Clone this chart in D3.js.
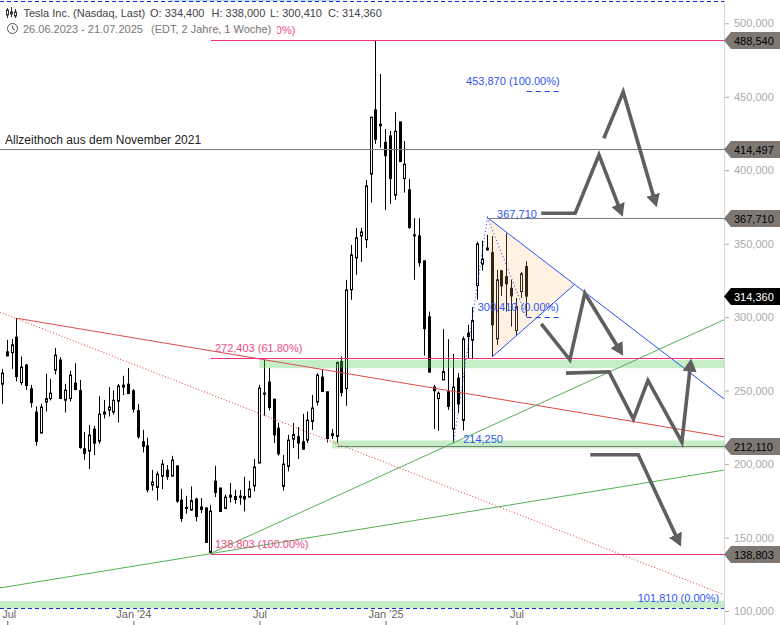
<!DOCTYPE html>
<html><head><meta charset="utf-8">
<script src="https://cdn.jsdelivr.net/npm/d3@7/dist/d3.min.js"></script>
<style>html,body{margin:0;padding:0;background:#fff}svg{display:block}text{font-family:"Liberation Sans",Arial,sans-serif;font-size:11px}</style>
</head><body><div id="c"></div>
<script>
// Weekly candles, index 0 = week of 26.06.2023 (values in USD x 1000 display as "xxx,000")
const opens=[254.4,276.4,275.9,286.4,255.5,267.4,251.2,235.4,221.1,242.2,244.6,263.9,270.8,243.5,244.6,255.1,249.9,210.4,208.8,223.8,215.6,234,236.7,235.4,242.8,253.7,254.4,249.9,236.3,215.2,212.4,185.7,184.1,191.8,195.9,191.8,198.8,175.5,170.5,168.7,176.2,169.1,170.1,139.9,188.4,183.7,169.8,177.5,175.9,178.2,176.2,177.5,185,200.7,248.3,255.8,244.2,224.5,184.8,198.4,217,218.6,215.2,216.3,229,242.2,259.2,249.2,220.6,218.8,269.8,251.4,318.6,340.3,355.3,352.6,397.3,441,431.3,419,423.3,383,432.9,394.3,386.6,356,355.3,338.3,300.2,252.4,244.6,257.3,249.2,223.8,258.5,229.7,289.1,284.3,321.5,336.1,347,343.9,285.2,331.5,327.6,319.7,290.9,317.4,334.4];
const highs=[264.8,284.6,285.2,299.3,273.2,268.2,253.9,239.2,241,261.4,258,279.1,272.8,254.6,263.5,268.7,257.3,221.8,226.5,226,246.2,243.7,252.4,250.1,254.4,260.1,265.3,251,241,223.3,217.9,196.1,195,202.9,199.3,205.6,198.8,183.2,178.4,184.8,177.1,176.9,170.5,172.3,198.8,183.7,179.3,187.1,182.5,182.3,191.4,188.6,203.4,253.9,270.9,265.3,244.2,228.1,206.3,219.9,227.9,225.2,234.2,235.8,247.1,261.9,264.1,249.2,224,269.8,273.2,325.4,349.2,360.7,360.7,393.4,436.1,488.54,465.5,428.1,426.7,439.7,432.9,419.9,394.1,367.4,367.4,338.3,303.8,253.9,249.4,291.8,285,275,261.9,286.8,294.8,306.8,351.4,352.1,356,355.3,332.2,332.2,357.1,325.4,313.1,330.8,338];
const lows=[241,273.2,264.8,256.2,253.9,250.5,238.5,212.6,221.1,235.8,243.3,261,244.6,235.1,242.6,250.5,210.4,202.9,196.6,206.1,213.8,231,232.4,233.7,228.3,246.9,248,235.1,217.2,207.9,180.7,182,175.2,183,189.3,191.8,173.5,160.7,166.2,168.4,161,166.7,146.7,138.803,177.5,167.7,169.4,173.9,173,172.3,167.7,177.5,181.4,200.7,232.9,236.5,214.3,205.8,182,195,210.9,203.4,209.7,214.3,223.3,239.9,249.4,214.7,217,214.3,246,239.7,311.8,328.8,337.6,347.1,378,417.9,415.4,373,377.1,379.8,405.9,384.8,360.1,325.4,334.4,273.9,262.6,223.8,222.6,257.3,236.9,214.25,234.7,222.9,272.3,271.4,311.8,331.7,345.3,273.2,281.2,314.5,303.8,293.6,287.3,313.1,300.41];
const closes=[261.9,273.7,281.2,259.6,266,253.5,241.9,215.4,238.8,244.6,248.3,274.2,244.6,250.3,260.5,250.7,211.3,207.2,219.7,214.3,234,235.4,238.8,243.5,253.1,252.4,248,237.4,218.6,212,182.5,187.8,193.2,200,191.6,202.7,174.8,163,169.8,175.2,164.3,170.8,146.7,168,180.7,167.7,177.5,178.9,177.9,177.3,177.9,183,198,251.7,247.6,238.5,219.9,207,200,216.3,220.1,214.3,210.2,229.9,238.1,260.5,249.4,217.4,219.5,269.1,248.7,318.6,342.4,354,358,389.3,436.1,421.1,430.3,409.9,394.3,426.5,405.9,404.1,361,355.5,337.1,292.2,262.6,249.9,248.3,263,239.2,252.4,241,285.2,286.8,297.7,349.9,339.5,345.8,294.8,325.4,321.3,322.7,314.5,307.2,329.5,314.36];

const priceTicks=[100,150,200,250,300,350,400,450,500];
const timeTicks=[1,27,53,79,106];
const timeLabels=["Jul","Jan '24","Jul","Jan '25","Jul"];

// Level lines: [start week, price]
const pinkLevels=[[43,488.54],[43,272.403],[43,138.803]];
const greyLevels=[[-0.5,414.497],[100,367.71],[69,212.11]];
const zones=[[53,271,265.3],[68,216.1,210.6],[-0.5,106.8,101.81]];
// Flags on the price axis
const flagValues=[488.54,414.497,367.71,212.11,138.803];
const lastClose=314.36;

// Trend lines: pairs of [week, price]
const redLine=[[2.87,299.3],[148.78,218.6]];
const redDotted=[[-0.49,303.4],[148.78,111.1]];
const greenLow=[[-0.49,115.7],[148.78,195.9]];
const greenRise=[[42.8,139],[148.78,298.2]];
const blueFall=[[100,367.71],[148.78,244.4]];
const blueTriangle=[[100,367.71],[117.9,322],[101,273]];
const blueDotted=[[93,214.25],[100,367.71],[108.1,300.41]];
const blueDashes=[[108.1,300.41,115.1],[108.1,453.87,115.1]];
const topDash=515.2, bottomDash=101.81;

// Forecast arrows
const arrows=[
 [[111.1,370.7],[118.1,370.7],[123,410.4],[127.9,368.4]],
 [[124,421.8],[128,453.3],[134.9,374.8]],
 [[111.1,295.4],[117,271],[120.1,316.3],[128,273.7]],
 [[116.2,261.9],[125.1,262.8],[130.1,230.6],[133.1,256.9],[140.1,215],[142,271.8]],
 [[121.2,206.3],[131.1,206.3],[139.9,143.9]]
];

// Text annotations: [text, week, price]
const pinkNotes=[["488,540 (100.00%)",40.3,488.54],["272,403 (61.80%)",43,272.403],["138,803 (100.00%)",43,138.803]];
const blueNotes=[["453,870 (100.00%)",95.6,453.87,"a"],["367,710",102,367.71,"b"],["300,410 (0.00%)",98,300.41,"c"],["214,250",95,214.25,"b"],["101,810 (0.00%)",131,101.81,"c"]];

const W=780,H=625,plotR=724;
const x=d3.scaleLinear().domain([-0.495,148.78]).range([0,plotR]);
const y=d3.scaleLinear().domain([100,500]).range([611,23.3]);
const svg=d3.select("#c").append("svg").attr("width",W).attr("height",H);
const defs=svg.append("defs");
defs.append("clipPath").attr("id","plot").append("rect").attr("x",0).attr("y",0).attr("width",plotR).attr("height",H);
defs.append("marker").attr("id","head").attr("markerUnits","userSpaceOnUse").attr("markerWidth",16).attr("markerHeight",16)
 .attr("refX",5).attr("refY",7).attr("orient","auto").append("path").attr("d","M0,0L13,7L0,14Z").attr("fill","#5f5f5f");
const crisp=v=>Math.round(v)+0.5;
const wickX=v=>Math.floor(v)+0.5;
const plot=svg.append("g").attr("clip-path","url(#plot)");
const line=d3.line().x(d=>x(d[0])).y(d=>y(d[1]));

// candles
const idx=d3.range(opens.length);
const cg=plot.append("g");
cg.selectAll("line").data(idx).join("line")
 .attr("x1",i=>wickX(x(i))).attr("x2",i=>wickX(x(i))).attr("y1",i=>y(highs[i])).attr("y2",i=>y(lows[i]))
 .attr("stroke","#000").attr("stroke-width",1);
cg.selectAll("rect").data(idx).join("rect")
 .attr("x",i=>wickX(x(i))-1).attr("width",2)
 .attr("y",i=>y(Math.max(opens[i],closes[i])))
 .attr("height",i=>Math.max(1,Math.abs(y(opens[i])-y(closes[i]))))
 .attr("fill",i=>closes[i]>=opens[i]?"#fff":"#000").attr("stroke","#000").attr("stroke-width",1);

// zones
plot.append("g").selectAll("rect").data(zones).join("rect")
 .attr("x",d=>x(d[0])).attr("width",d=>plotR-x(d[0]))
 .attr("y",d=>y(d[1])).attr("height",d=>y(d[2])-y(d[1]))
 .attr("fill","rgba(92,206,92,.35)");

// triangle
plot.append("path").attr("d",line(blueTriangle)+"Z").attr("fill","rgba(255,190,110,.2)");
plot.append("path").attr("d",line([blueTriangle[1],blueTriangle[2]])).attr("fill","none").attr("stroke","#2450f5").attr("stroke-width",1);
plot.append("path").attr("d",line(blueFall)).attr("fill","none").attr("stroke","#2450f5").attr("stroke-width",1);
plot.append("path").attr("d",line(blueDotted)).attr("fill","none").attr("stroke","#2450f5").attr("stroke-width",1.1).attr("stroke-dasharray","1 2.5");
plot.append("g").selectAll("line").data(blueDashes).join("line")
 .attr("x1",d=>x(d[0])).attr("x2",d=>x(d[2])).attr("y1",d=>crisp(y(d[1]))).attr("y2",d=>crisp(y(d[1])))
 .attr("stroke","#1a3fe0").attr("stroke-dasharray","5 4");

// trend lines
[[redLine,"#dd4a4a",1,null],[redDotted,"#e85555",1.1,"1 2"],[greenLow,"#55b055",1,null],[greenRise,"#55b055",1,null]].forEach(([d,c,w,dash])=>{
 plot.append("path").attr("d",line(d)).attr("fill","none").attr("stroke",c).attr("stroke-width",w).attr("stroke-dasharray",dash);
});

// levels
plot.append("g").selectAll("line").data(greyLevels).join("line")
 .attr("x1",d=>x(d[0])).attr("x2",plotR).attr("y1",d=>crisp(y(d[1]))).attr("y2",d=>crisp(y(d[1])))
 .attr("stroke","#7d7d7d");
plot.append("g").selectAll("line").data(pinkLevels).join("line")
 .attr("x1",d=>x(d[0])).attr("x2",plotR).attr("y1",d=>crisp(y(d[1]))).attr("y2",d=>crisp(y(d[1])))
 .attr("stroke","#f0307a");
// top/bottom dashed
plot.append("rect").attr("x",x(34.6)).attr("y",0).attr("width",x(69.6)-x(34.6)).attr("height",1).attr("fill","#b8d8f8");
plot.selectAll(".dash").data([topDash,bottomDash]).join("line").attr("class","dash")
 .attr("x1",0).attr("x2",plotR).attr("y1",d=>crisp(y(d))).attr("y2",d=>crisp(y(d)))
 .attr("stroke","#0a2be8").attr("stroke-dasharray","4 3");

// notes
plot.append("g").selectAll("text").data(pinkNotes).join("text")
 .attr("x",d=>x(d[1])+4).attr("y",d=>y(d[2])-6).attr("fill","#ee4a85").text(d=>d[0]);
const noteDy={a:-6,b:0,c:-6};
plot.append("g").selectAll("text").data(blueNotes).join("text")
 .attr("x",d=>x(d[1])).attr("y",d=>y(d[2])+noteDy[d[3]]).attr("fill","#2f55f0").text(d=>d[0]);

// arrows
plot.append("g").selectAll("path").data(arrows).join("path")
 .attr("d",d=>{
   const pts=d.map(p=>[x(p[0]),y(p[1])]);
   const n=pts.length,a=pts[n-2],b=pts[n-1],L=Math.hypot(b[0]-a[0],b[1]-a[1]),k=(L-8)/L;
   pts[n-1]=[a[0]+(b[0]-a[0])*k,a[1]+(b[1]-a[1])*k];
   return d3.line()(pts);
 })
 .attr("fill","none").attr("stroke","#5f5f5f").attr("stroke-width",3.6).attr("stroke-linejoin","miter").attr("marker-end","url(#head)");

// price axis
const axisR=d3.axisRight(y).tickValues(priceTicks).tickFormat(d=>d3.format(",")(d*1000)).tickSize(4).tickPadding(5);
const ga=svg.append("g").attr("transform",`translate(${plotR+1},0)`).call(axisR);
ga.select(".domain").remove();
ga.selectAll("line").attr("stroke","#aaa");
ga.selectAll("text").attr("fill","#aaa").style("font-size","11px").style("font-family","Liberation Sans");
svg.append("line").attr("x1",plotR+.5).attr("x2",plotR+.5).attr("y1",0).attr("y2",H).attr("stroke","#d8d8d8");

// flags
const flagPath=v=>{const c=crisp(y(v));return `M${plotR},${c}L${plotR+7},${c-8.5}H${W}V${c+8.5}H${plotR+7}Z`;};
const flagText=d=>d3.format(",.3f")(d).replace(".",",");
svg.append("g").selectAll("path").data(flagValues).join("path").attr("d",flagPath).attr("fill","#7e7874");
svg.append("g").selectAll("text").data(flagValues).join("text")
 .attr("x",plotR+10).attr("y",d=>crisp(y(d))+4).attr("fill","#000").text(flagText);
svg.append("path").attr("d",flagPath(lastClose)).attr("fill","#000");
svg.append("text").attr("x",plotR+10).attr("y",crisp(y(lastClose))+4).attr("fill","#fff").text(flagText(lastClose));

// time axis
const axisB=d3.axisBottom(x).tickValues(timeTicks).tickFormat((d,i)=>timeLabels[i]).tickSize(4);
const gb=svg.append("g").attr("transform",`translate(0,${H-4})`).call(axisB);
gb.select(".domain").remove();
gb.selectAll("line").attr("stroke","#666");
gb.selectAll("text").attr("y",-3).attr("dy",0).attr("fill","#666").style("font-size","11px").style("font-family","Liberation Sans");
gb.selectAll("text").filter((d,i)=>i===0).attr("dx",1.5);

// header
svg.append("rect").attr("x",0).attr("y",20).attr("width",277).attr("height",16).attr("fill","rgba(255,255,255,.9)");
svg.append("text").attr("x",5).attr("y",144).attr("fill","#222").style("font-size","12px").text("Allzeithoch aus dem November 2021");
const head=[["Tesla Inc. (Nasdaq, Last)",23.5,17,"#444"],["O: 334,400",150,17,"#444"],["H: 338,000",211.5,17,"#444"],["L: 300,410",270,17,"#444"],["C: 314,360",328,17,"#444"],["26.06.2023 - 21.07.2025",23,32.5,"#777"],["(EDT, 2 Jahre, 1 Woche)",151,32.5,"#777"]];
svg.append("g").selectAll("text").data(head).join("text").attr("x",d=>d[1]).attr("y",d=>d[2]).attr("fill",d=>d[3]).text(d=>d[0]);
// icons
const ic=svg.append("g").attr("stroke","#333").attr("fill","none");
[[7.5,8,18,10,15],[11.5,7,17,12,14],[15.5,9,18,12,16]].forEach(([cx,a,b,c,e])=>{
 ic.append("line").attr("x1",cx).attr("x2",cx).attr("y1",a).attr("y2",b);
 ic.append("rect").attr("x",cx-1).attr("y",c).attr("width",2).attr("height",e-c).attr("fill","#fff");
});
const cl=svg.append("g").attr("stroke","#555").attr("fill","none");
cl.append("circle").attr("cx",12.5).attr("cy",28.5).attr("r",5);
cl.append("path").attr("d","M12.5,25.5V28.5L15,30");
</script></body></html>
